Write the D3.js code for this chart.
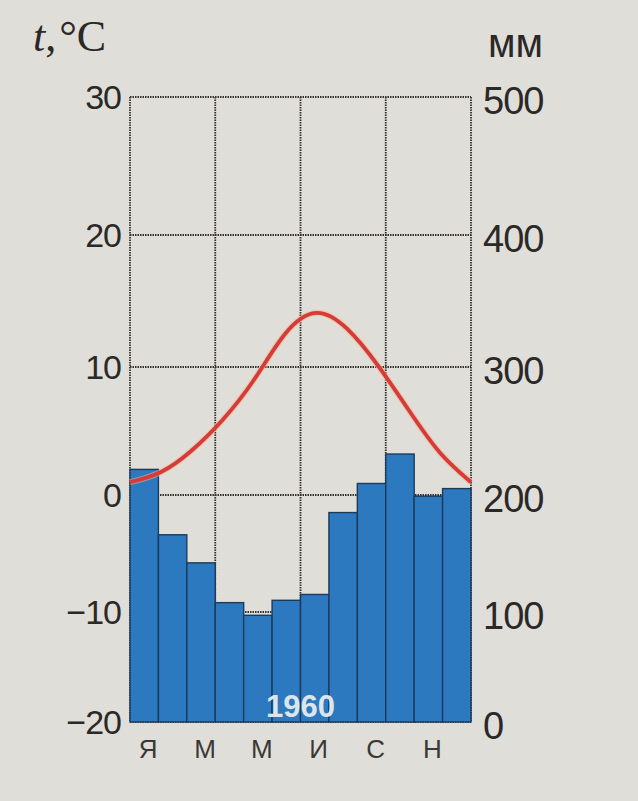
<!DOCTYPE html>
<html>
<head>
<meta charset="utf-8">
<script src="https://cdn.jsdelivr.net/npm/d3@7"></script>
<style>
  html, body { margin: 0; padding: 0; background: #e2e0dc; }
  svg { display: block; }
</style>
</head>
<body>
<div id="chart"></div>
<script>
// месяцы
const months = ["Я", "Ф", "М", "А", "М", "И", "И", "А", "С", "О", "Н", "Д"];
// осадки, мм
const precip = [220, 166, 142, 108, 97, 110, 115, 185, 209, 232, 199, 205];
// температура, °C
const temp = [1.0, 1.8, 3.5, 5.9, 9.0, 12.5, 14.1, 12.9, 10.1, 6.6, 3.3, 1.0];
const tempTicks = [30, 20, 10, 0, -10, -20];
const precipTicks = [500, 400, 300, 200, 100, 0];
const yearLabel = "1960";

const width = 638;
const height = 801;
const plotLeft = 130, plotRight = 471, plotTop = 97, plotBottom = 722;

const svg = d3.select("#chart")
  .append("svg")
  .attr("width", width)
  .attr("height", height);

svg.append("rect")
  .attr("width", width)
  .attr("height", height)
  .attr("fill", "#e0ded9");

const yT = d3.scaleLinear()
  .domain([-20, -10, 0, 10, 20, 30])
  .range([722, 612, 495, 367, 235, 97]);

const yP = d3.scaleLinear()
  .domain([0, 100, 200, 300, 400, 500])
  .range([722, 612, 495, 367, 235, 97]);

const x = d3.scaleBand()
  .domain(d3.range(12))
  .range([plotLeft, plotRight])
  .padding(0);

const xLine = d3.scalePoint()
  .domain(d3.range(12))
  .range([plotLeft, plotRight]);

// сетка
const grid = svg.append("g")
  .attr("stroke", "#33302d")
  .attr("stroke-width", 1.8)
  .attr("stroke-dasharray", "1.5,1");

grid.selectAll("line.h")
  .data(tempTicks)
  .enter()
  .append("line")
  .attr("x1", plotLeft)
  .attr("x2", plotRight)
  .attr("y1", d => yT(d))
  .attr("y2", d => yT(d));

grid.selectAll("line.v")
  .data([0, 3, 6, 9, 12])
  .enter()
  .append("line")
  .attr("x1", d => d === 12 ? plotRight : x(d))
  .attr("x2", d => d === 12 ? plotRight : x(d))
  .attr("y1", plotTop)
  .attr("y2", plotBottom);

// столбики осадков
svg.selectAll("rect.bar")
  .data(precip)
  .enter()
  .append("rect")
  .attr("class", "bar")
  .attr("x", (d, i) => x(i))
  .attr("y", d => yP(d))
  .attr("width", x.bandwidth())
  .attr("height", d => yP(0) - yP(d))
  .attr("fill", "#2c79c0")
  .attr("stroke", "#1c3a5a")
  .attr("stroke-width", 1.4);

// подпись года
svg.append("text")
  .attr("x", x(6))
  .attr("y", plotBottom - 5)
  .attr("text-anchor", "middle")
  .attr("font-family", "Liberation Sans, Arial, sans-serif")
  .attr("font-weight", "bold")
  .attr("font-size", 31)
  .attr("fill", "#dce5ec")
  .text(yearLabel);

// кривая температуры
const line = d3.line()
  .x((d, i) => xLine(i))
  .y(d => yT(d))
  .curve(d3.curveNatural);

svg.append("path")
  .datum(temp)
  .attr("d", line)
  .attr("fill", "none")
  .attr("stroke", "#f1b47c")
  .attr("stroke-width", 6)
  .attr("opacity", 0.55);

svg.append("path")
  .datum(temp)
  .attr("d", line)
  .attr("fill", "none")
  .attr("stroke", "#d63a3c")
  .attr("stroke-width", 3.8);

// левая ось
const tickFont = "Liberation Sans, Arial, sans-serif";
svg.selectAll("text.lt")
  .data(tempTicks)
  .enter()
  .append("text")
  .attr("x", plotLeft - 9)
  .attr("y", d => yT(d))
  .attr("dy", "0.36em")
  .attr("text-anchor", "end")
  .attr("font-family", tickFont)
  .attr("font-size", 34)
  .attr("letter-spacing", -1)
  .attr("fill", "#2b2927")
  .text(d => d < 0 ? "\u2212" + Math.abs(d) : d);

// правая ось
svg.selectAll("text.rt")
  .data(precipTicks)
  .enter()
  .append("text")
  .attr("x", plotRight + 12)
  .attr("y", d => yP(d) + 3)
  .attr("dy", "0.36em")
  .attr("text-anchor", "start")
  .attr("font-family", tickFont)
  .attr("font-size", 38)
  .attr("letter-spacing", -1)
  .attr("fill", "#2b2927")
  .text(d => d);

// подписи месяцев
svg.selectAll("text.m")
  .data(months.filter((d, i) => i % 2 === 0))
  .enter()
  .append("text")
  .attr("x", (d, i) => x(i * 2) + x.bandwidth() / 2 + 4)
  .attr("y", plotBottom + 36)
  .attr("text-anchor", "middle")
  .attr("font-family", tickFont)
  .attr("font-size", 26)
  .attr("fill", "#3a3836")
  .text(d => d);

// заголовки осей
const tLabel = svg.append("text")
  .attr("x", 33)
  .attr("y", 51)
  .attr("font-family", "Liberation Serif, Times New Roman, serif")
  .attr("font-size", 44)
  .attr("fill", "#2b2927");
tLabel.append("tspan").attr("font-style", "italic").text("t");
tLabel.append("tspan").text(",");
tLabel.append("tspan").attr("dx", 3).text("°C");

svg.append("text")
  .attr("x", 488)
  .attr("y", 57)
  .attr("font-family", tickFont)
  .attr("font-size", 40)
  .attr("fill", "#2b2927")
  .text("мм");
</script>
</body>
</html>
